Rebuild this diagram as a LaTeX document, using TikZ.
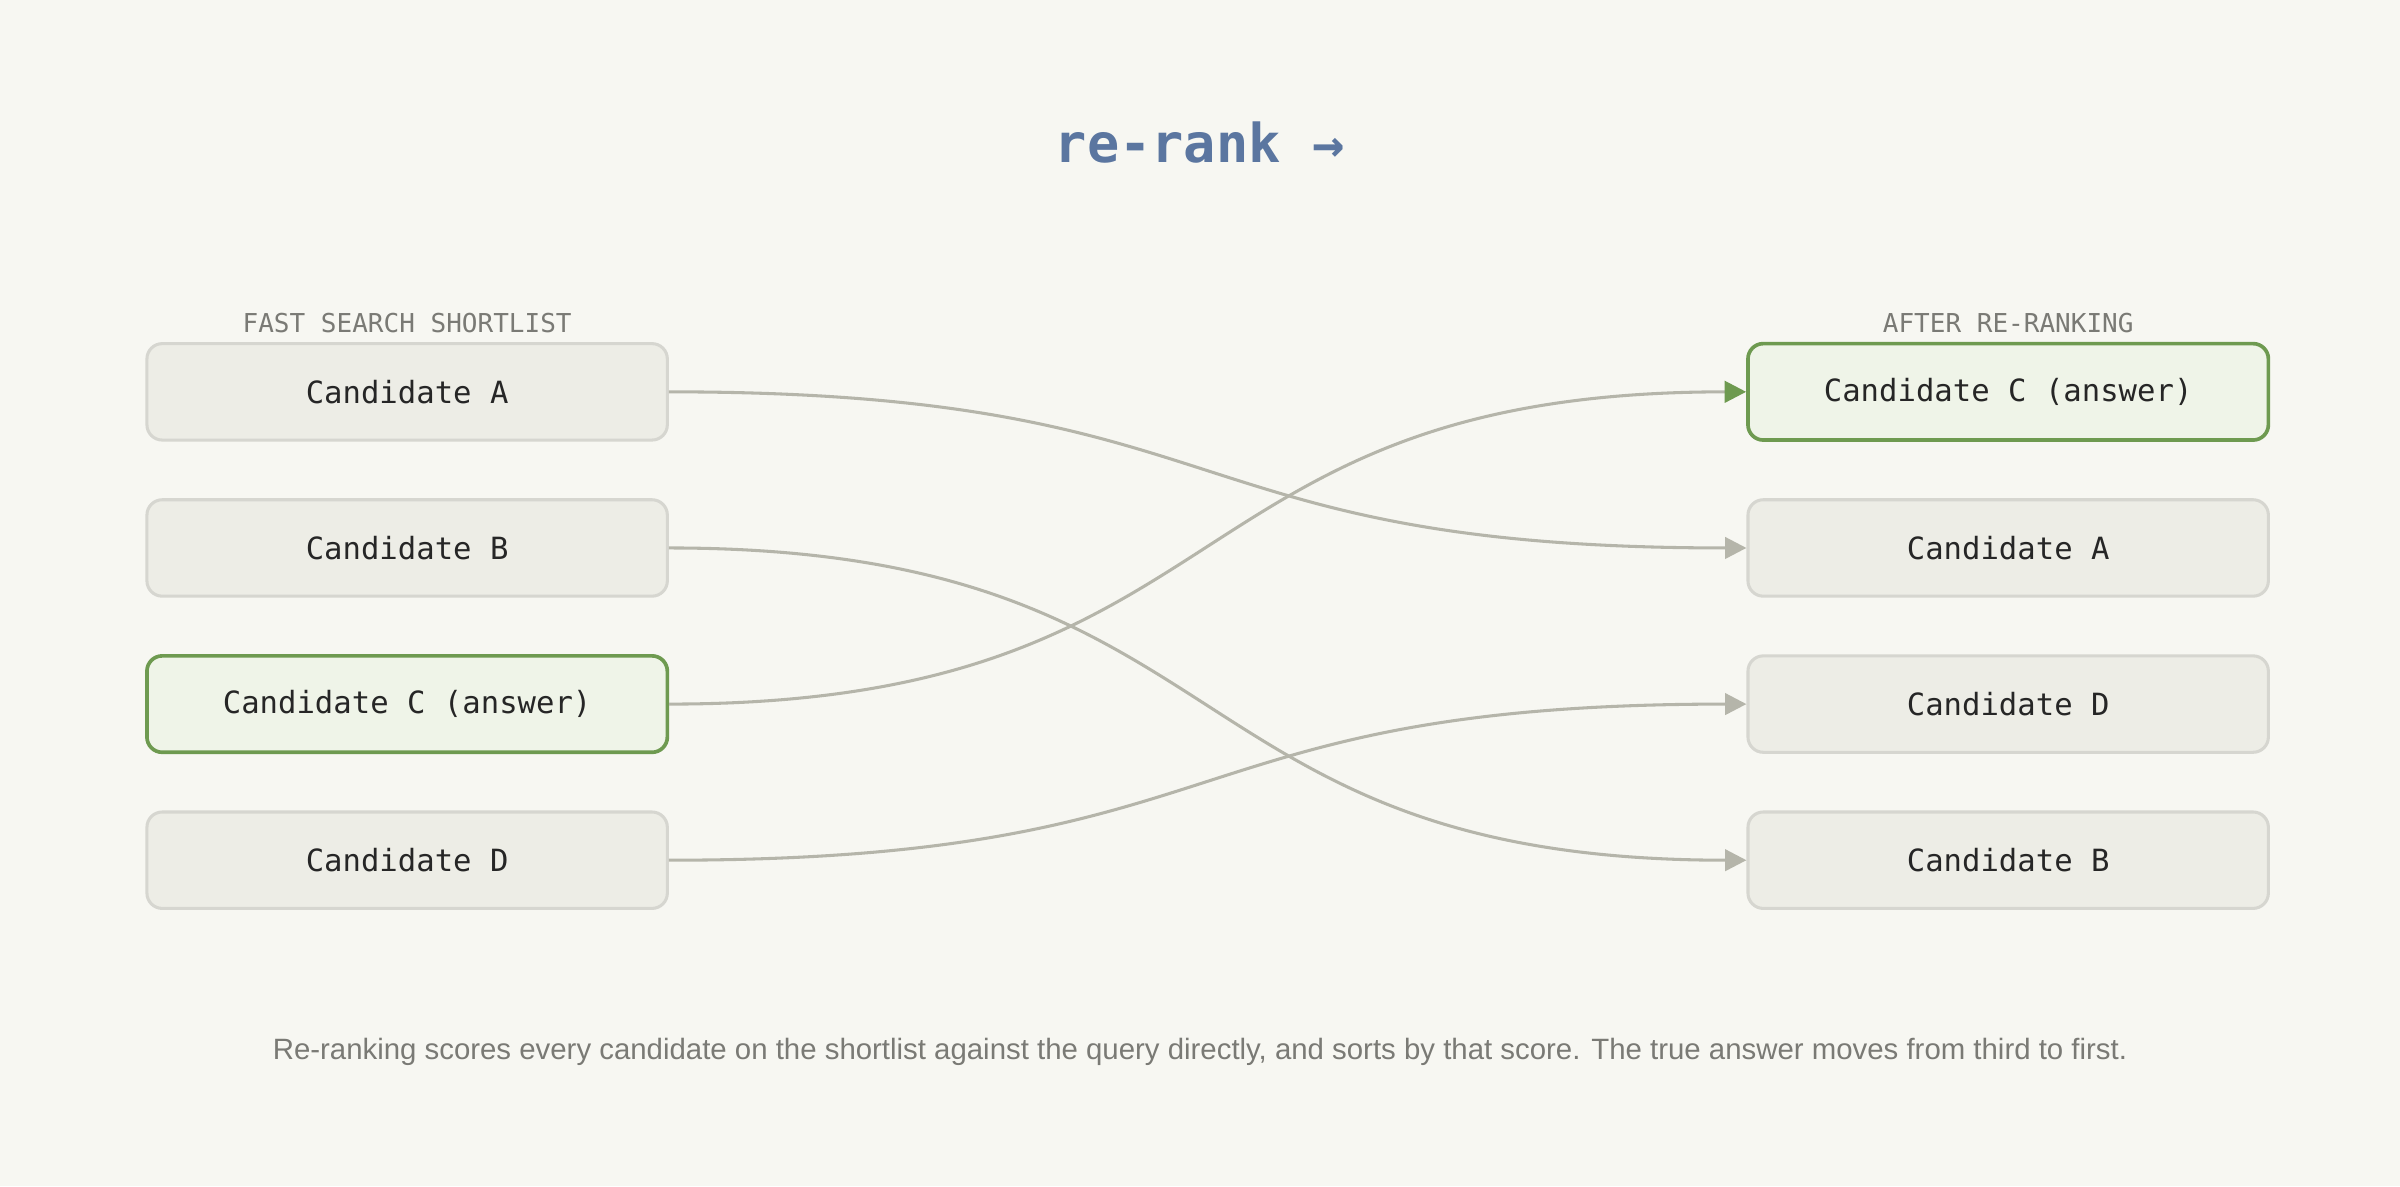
\documentclass[tikz,border=0pt]{standalone}
\usepackage{fontspec}
\setmainfont{Liberation Sans}
\setmonofont{DejaVu Sans Mono}
\usetikzlibrary{arrows.meta}
\definecolor{bgc}{HTML}{F7F7F2}
\definecolor{boxfill}{HTML}{EDEDE6}
\definecolor{boxline}{HTML}{D6D6D0}
\definecolor{ansline}{HTML}{6E9A50}
\definecolor{ansfill}{HTML}{EFF4E8}
\definecolor{linkc}{HTML}{B5B5AA}
\definecolor{titlec}{HTML}{5B76A0}
\definecolor{headc}{HTML}{7A7A75}
\begin{document}
\begin{tikzpicture}[x=0.5pt, y=-0.5pt,
  cand/.style={rectangle, rounded corners=5pt, draw=boxline, fill=boxfill, line width=1pt, minimum width=170pt, minimum height=31.5pt, font=\ttfamily\fontsize{10}{12}\selectfont, text=black!85},
  answer/.style={cand, draw=ansline, fill=ansfill, line width=1.2pt},
  head/.style={font=\ttfamily\fontsize{8.5}{10}\selectfont, text=headc},
  link/.style={draw=linkc, line width=1pt, -{Triangle[length=7pt, width=7pt]}},
  anslink/.style={link, -{Triangle[length=7pt, width=7pt, fill=ansline, color=ansline]}}]

  \fill[bgc] (0,0) rectangle (1568,775);
  \useasboundingbox (0,0) rectangle (1568,775);

  \node[font=\ttfamily\bfseries\fontsize{17.5}{20}\selectfont, text=titlec] (title) at (784,93) {re-rank →};

  % shortlist
  \node[head] (lhead) at (266,211) {FAST SEARCH SHORTLIST};
  \node[cand] (la) at (266,256) {Candidate A};
  \node[cand] (lb) at (266,358) {Candidate B};
  \node[answer] (lc) at (266,460) {Candidate C (answer)};
  \node[cand] (ld) at (266,562) {Candidate D};

  % after re-ranking
  \node[head] (rhead) at (1312,211) {AFTER RE-RANKING};
  \node[answer] (rc) at (1312,256) {Candidate C (answer)};
  \node[cand] (ra) at (1312,358) {Candidate A};
  \node[cand] (rd) at (1312,460) {Candidate D};
  \node[cand] (rb) at (1312,562) {Candidate B};

  \draw[link] (la.east) .. controls +(380,0) and +(-380,0) .. (ra.west);
  \draw[link] (lb.east) .. controls +(380,0) and +(-380,0) .. (rb.west);
  \draw[link] (ld.east) .. controls +(380,0) and +(-380,0) .. (rd.west);
  \draw[anslink] (lc.east) .. controls +(380,0) and +(-380,0) .. (rc.west);

  \node[font=\fontsize{9.6}{12}\selectfont, text=headc] (caption) at (784,687) {Re-ranking scores every candidate on the shortlist against the query directly, and sorts by that score. The true answer moves from third to first.};
\end{tikzpicture}
\end{document}
